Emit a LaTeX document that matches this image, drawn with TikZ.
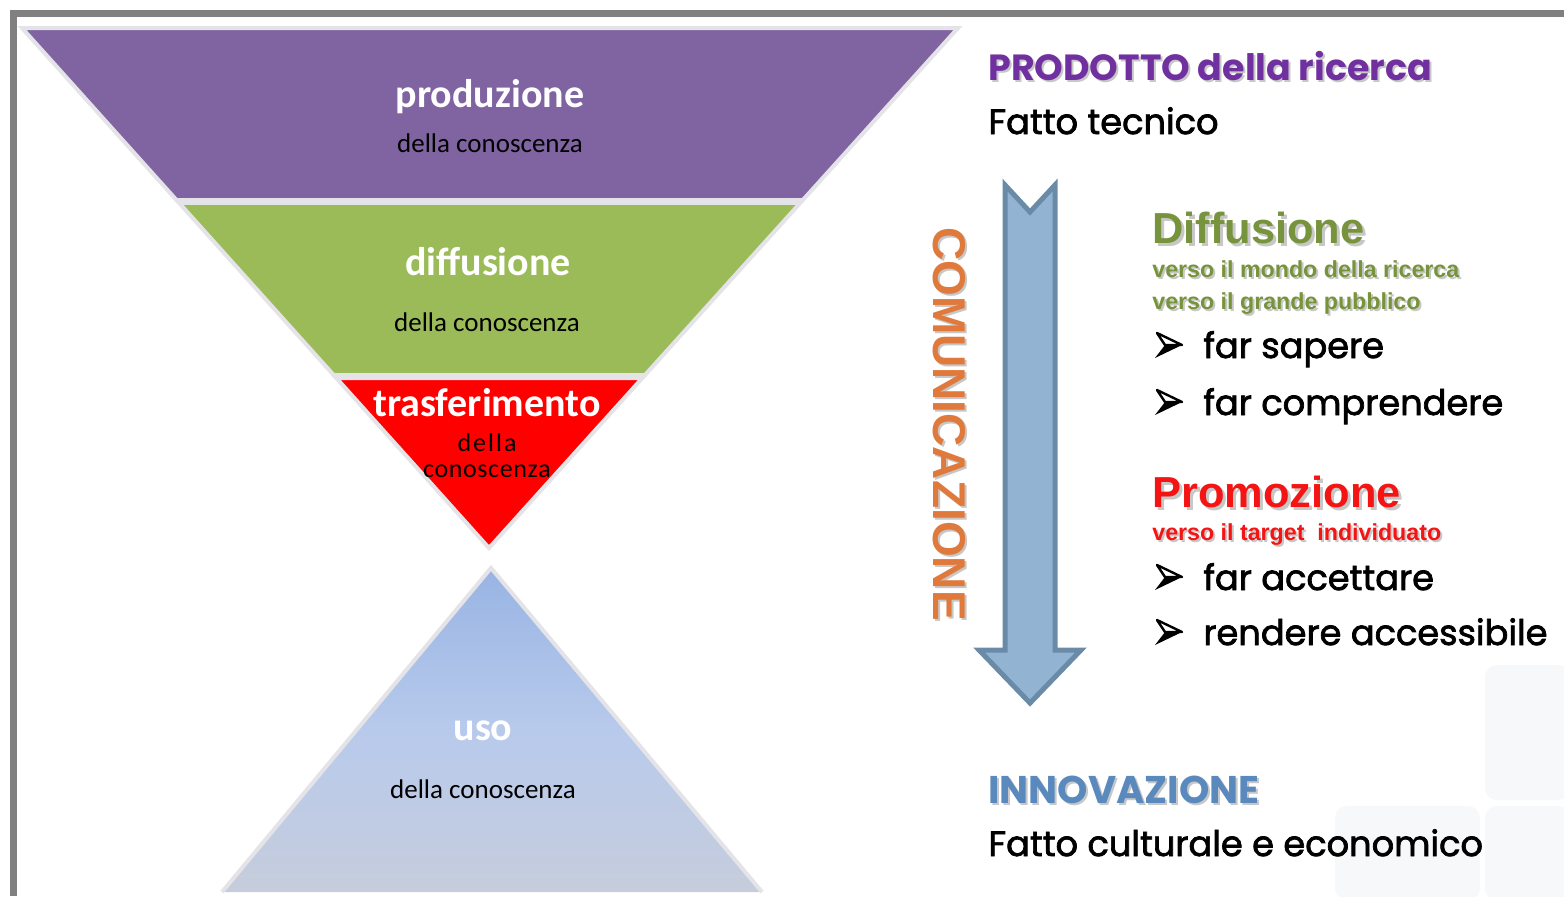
\documentclass[tikz,border=0pt]{standalone}
\usepackage{fontspec}
\usetikzlibrary{calc}
\newfontfamily\calfont{Carlito}
\newfontfamily\arfont{Liberation Sans}
\newfontfamily\futfont{Poppins}
\newfontfamily\futmed[FakeBold=2]{Poppins}
\definecolor{framegray}{HTML}{808080}
\definecolor{purp}{HTML}{8064A2}
\definecolor{grn}{HTML}{9BBB59}
\definecolor{blueA}{HTML}{98B4E3}
\definecolor{blueB}{HTML}{B8CAEC}
\definecolor{blueC}{HTML}{C6CDDC}
\definecolor{edgec}{HTML}{E4E4E8}
\definecolor{prodc}{HTML}{7030A0}
\definecolor{difc}{HTML}{77933C}
\definecolor{promc}{HTML}{F41414}
\definecolor{innc}{HTML}{5A8ABD}
\definecolor{comc}{HTML}{E07A3C}
\definecolor{arrf}{HTML}{93B3D3}
\definecolor{arrd}{HTML}{6A8BA8}
\definecolor{faint}{HTML}{F7F8F9}
\tikzset{
  layer/.style={draw=edgec, line width=2},
  bigw/.style={text=white, font=\calfont\bfseries\fontsize{20}{22}\selectfont, inner sep=0},
  smallb/.style={text=black, font=\calfont\fontsize{13.5}{14}\selectfont, inner sep=0, align=center},
  futb/.style={anchor=base west, inner sep=0, text=black, font=\futmed\fontsize{17.6}{20}\selectfont},
  hdr/.style={anchor=base west, inner sep=0, font=\futfont\bfseries\fontsize{18.2}{20}\selectfont},
  ttl/.style={anchor=base west, inner sep=0, font=\arfont\bfseries\fontsize{21.7}{24}\selectfont},
  sub/.style={anchor=base west, inner sep=0, font=\arfont\bfseries\fontsize{11.6}{13}\selectfont},
  shd/.style={text=black, opacity=0.22},
  bul/.pic={
    \fill[black] (-13,13) -- (14,0) -- (-3,0) -- cycle;
    \draw[black, fill=white, line width=1.2, line join=round] (-11,-12) -- (14,0) -- (-3,0) -- cycle;
  }
}
\begin{document}
\begin{tikzpicture}[x=0.5pt,y=-0.5pt]
\useasboundingbox (0,0) rectangle (1564,896);
\fill[white] (0,0) rectangle (1564,896);
% faint background squares
\fill[faint, rounded corners=6] (1485,665) rectangle (1570,800);
\fill[faint, rounded corners=6] (1335,806) rectangle (1480,900);
\fill[faint, rounded corners=6] (1485,806) rectangle (1570,900);
% frame
\fill[framegray] (10,10) rectangle (1564,17);
\fill[framegray] (10,10) rectangle (17,896);
% funnel
\coordinate (TL) at (22,28);
\coordinate (TR) at (958,28);
\coordinate (AP) at (489,548);
\path[layer, fill=purp] (TL) -- (TR) -- ($(TR)!0.3308!(AP)$) -- ($(TL)!0.3308!(AP)$) -- cycle;
\path[layer, fill=grn] ($(TL)!0.3365!(AP)$) -- ($(TR)!0.3365!(AP)$) -- ($(TR)!0.6673!(AP)$) -- ($(TL)!0.6673!(AP)$) -- cycle;
\path[layer, fill=red] ($(TL)!0.6731!(AP)$) -- ($(TR)!0.6731!(AP)$) -- (AP) -- cycle;
% pyramid
\coordinate (BA) at (491,568);
\coordinate (BL) at (222,892);
\coordinate (BR) at (762,892);
\shade[top color=blueA, bottom color=blueC, middle color=blueB] (BA) -- (BR) -- (BL) -- cycle;
\draw[edgec, line width=2] (BL) -- (BA) -- (BR);
% funnel labels
\node[bigw] (prod) at (490,97) {produzione};
\node[smallb] (prodk) at (490,143) {della conoscenza};
\node[bigw] (diff) at (488,262) {diffusione};
\node[smallb] (diffk) at (487,322) {della conoscenza};
\node[bigw] (tras) at (487,403) {trasferimento};
\node[smallb, font=\calfont\fontsize{13}{14}\selectfont] (trask1) at (487,443) {d\kern1pt e\kern1pt l\kern1pt l\kern1pt a};
\node[smallb, font=\calfont\fontsize{13}{14}\selectfont] (trask2) at (487,471) {c\kern.3pt o\kern.3pt n\kern.3pt o\kern.3pt s\kern.3pt c\kern.3pt e\kern.3pt n\kern.3pt z\kern.3pt a};
\node[bigw] (uso) at (483,731) {uso};
\node[smallb] (usok) at (483,789) {della conoscenza};
% big arrow
\path[fill=arrf, draw=arrd, line width=2.5, line join=miter]
  (1005,185) -- (1030,212) -- (1055,185) -- (1055,650) -- (1081,650) -- (1030,703) -- (979,650) -- (1005,650) -- cycle;
% COMUNICAZIONE
\node[shd, rotate=-90, inner sep=0, font=\arfont\bfseries\fontsize{23}{25}\selectfont] (coms) at (951,426) {COMUNICAZIONE};
\node[rotate=-90, inner sep=0, text=comc, font=\arfont\bfseries\fontsize{23}{25}\selectfont] (com) at (949,424) {COMUNICAZIONE};
% top texts
\node[hdr, shd] (prods) at (990,82) {PRODOTTO della ricerca};
\node[hdr, text=prodc] (prodt) at (988,80) {PRODOTTO della ricerca};
\node[futb] (fatto) at (988,134) {Fatto tecnico};
% Diffusione
\node[ttl, shd] (difs) at (1155,246) {Diffusione};
\node[ttl, text=difc] (dift) at (1152,243) {Diffusione};
\node[sub, shd] (v1s) at (1154,279) {verso il mondo della ricerca};
\node[sub, text=difc] (v1) at (1152,277) {verso il mondo della ricerca};
\node[sub, shd] (v2s) at (1154,311) {verso il grande pubblico};
\node[sub, text=difc] (v2) at (1152,309) {verso il grande pubblico};
\pic at (1168,345) {bul};
\node[futb] (fs) at (1203,358) {far sapere};
\pic at (1168,402) {bul};
\node[futb] (fc) at (1203,415) {far comprendere};
% Promozione
\node[ttl, shd] (proms) at (1155,510) {Promozione};
\node[ttl, text=promc] (promt) at (1152,507) {Promozione};
\node[sub, shd] (v3s) at (1154,542) {verso il target\ \ individuato};
\node[sub, text=promc] (v3) at (1152,540) {verso il target\ \ individuato};
\pic at (1168,577) {bul};
\node[futb] (fa) at (1203,590) {far accettare};
\pic at (1168,632) {bul};
\node[futb] (ra) at (1203,645) {rendere accessibile};
% bottom
\node[hdr, shd, font=\futfont\bfseries\fontsize{19.3}{21}\selectfont] (inns) at (990,805) {INNOVAZIONE};
\node[hdr, text=innc, font=\futfont\bfseries\fontsize{19.3}{21}\selectfont] (inn) at (988,803) {INNOVAZIONE};
\node[futb] (fce) at (988,856) {Fatto culturale e economico};
\end{tikzpicture}
\end{document}
